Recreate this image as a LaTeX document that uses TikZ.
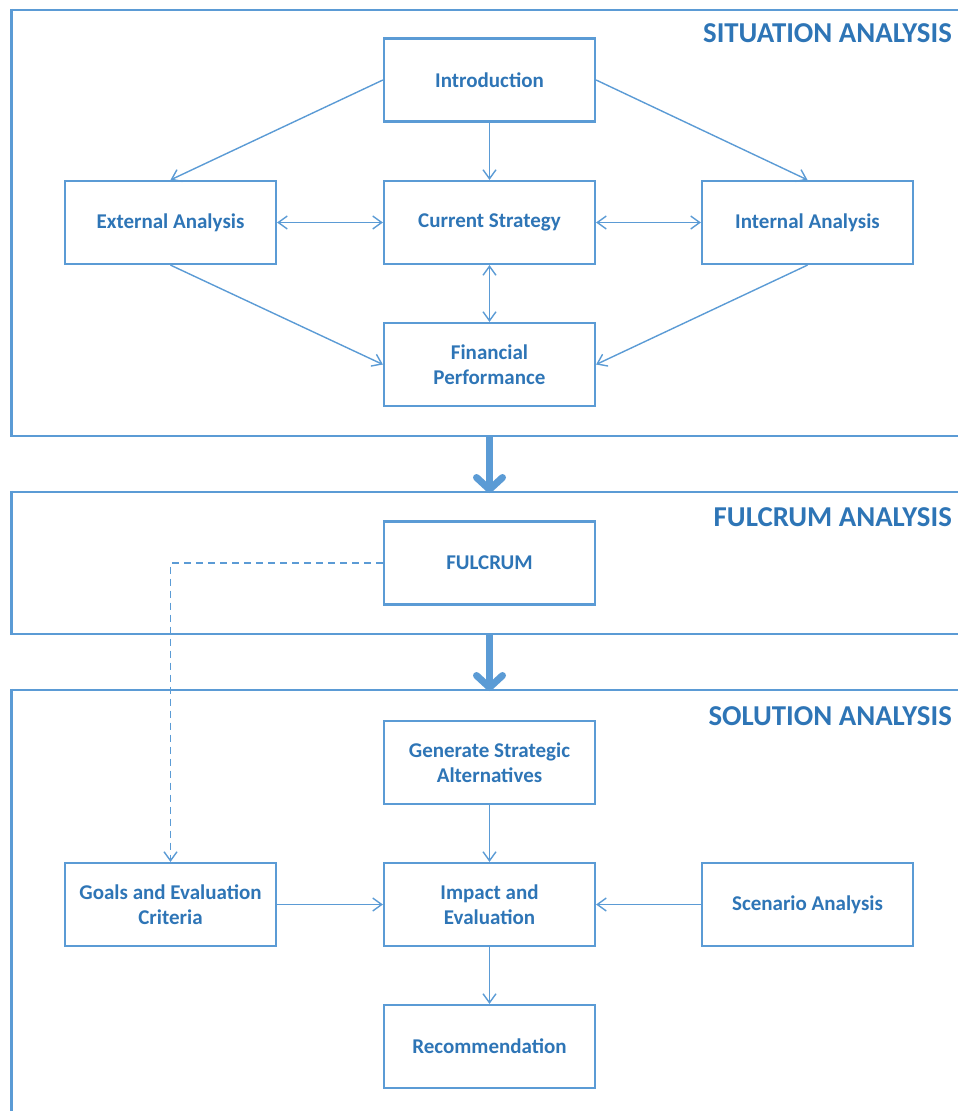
\documentclass[tikz,border=0pt]{standalone}
\usepackage{fontspec}
\setmainfont{Carlito}
\usetikzlibrary{arrows.meta}
\definecolor{frameblue}{HTML}{5B9BD5}
\definecolor{textblue}{HTML}{2E75B6}
\tikzset{
  stepbox/.style={draw=frameblue, line width=2.2pt, minimum width=211pt, minimum height=83pt,
    inner sep=0pt, align=center, text=textblue, font=\fontsize{21}{25.5}\selectfont\bfseries},
  panelline/.style={draw=frameblue, line width=2.4pt},
  panelside/.style={draw=frameblue, line width=3pt},
  paneltitle/.style={anchor=base east, inner sep=0pt, text=textblue, font=\fontsize{28.8}{32}\selectfont\bfseries},
  link/.style={draw=frameblue, line width=1.4pt, -{Straight Barb[length=9pt, width=13pt]}},
  biglink/.style={link, <->, >={Straight Barb[length=9pt, width=13pt]}},
  dashlink/.style={link, dash pattern=on 7pt off 5pt},
  stagearrow/.style={draw=frameblue, line width=7pt,
    -{Straight Barb[length=12pt, width=26pt, round]}}
}
\begin{document}
\begin{tikzpicture}[x=1pt, y=-1pt]
\useasboundingbox (0,0) rectangle (958,1111);

% stage frames, open on the right
\draw[panelline] (11,10) -- (962,10);
\draw[panelline] (11,436) -- (962,436);
\draw[panelside] (11,8.8) -- (11,437.2);
\draw[panelline] (11,492) -- (962,492);
\draw[panelline] (11,634) -- (962,634);
\draw[panelside] (11,490.8) -- (11,635.2);
\draw[panelline] (11,690) -- (962,690);
\draw[panelside] (11,688.8) -- (11,1115);

\node[paneltitle] (t1) at (952,42) {SITUATION ANALYSIS};
\node[paneltitle] (t2) at (952,526) {FULCRUM ANALYSIS};
\node[paneltitle] (t3) at (952,725) {SOLUTION ANALYSIS};

% situation analysis
\node[stepbox] (intro) at (489.5,80) {Introduction};
\node[stepbox] (ext) at (170.5,222.5) {External Analysis};
\node[stepbox] (cur) at (489.5,222.5) {Current Strategy};
\node[stepbox] (int) at (807.5,222.5) {Internal Analysis};
\node[stepbox] (fin) at (489.5,364.5) {Financial\\Performance};

% fulcrum analysis
\node[stepbox] (ful) at (489.5,563) {FULCRUM};

% solution analysis
\node[stepbox] (gen) at (489.5,762.5) {Generate Strategic\\Alternatives};
\node[stepbox] (goals) at (170.5,904.5) {Goals and Evaluation\\Criteria};
\node[stepbox] (imp) at (489.5,904.5) {Impact and\\Evaluation};
\node[stepbox] (scen) at (807.5,904.5) {Scenario Analysis};
\node[stepbox] (rec) at (489.5,1046.5) {Recommendation};

% stage transitions
\coordinate (s1) at (489.5,435);
\coordinate (s2) at (489.5,493);
\coordinate (s3) at (489.5,633);
\coordinate (s4) at (489.5,691);
\draw[stagearrow] (s1) -- (s2);
\draw[stagearrow] (s3) -- (s4);

% connectors
\draw[link] (intro.west) -- (ext.north);
\draw[link] (intro.east) -- (int.north);
\draw[link] (intro.south) -- (cur.north);
\draw[biglink] (ext.east) -- (cur.west);
\draw[biglink] (cur.east) -- (int.west);
\draw[biglink] (cur.south) -- (fin.north);
\draw[link] (ext.south) -- (fin.west);
\draw[link] (int.south) -- (fin.east);

\draw[dashlink] (ful.west) -| (goals.north);
\draw[link] (gen.south) -- (imp.north);
\draw[link] (goals.east) -- (imp.west);
\draw[link] (scen.west) -- (imp.east);
\draw[link] (imp.south) -- (rec.north);
\end{tikzpicture}
\end{document}
